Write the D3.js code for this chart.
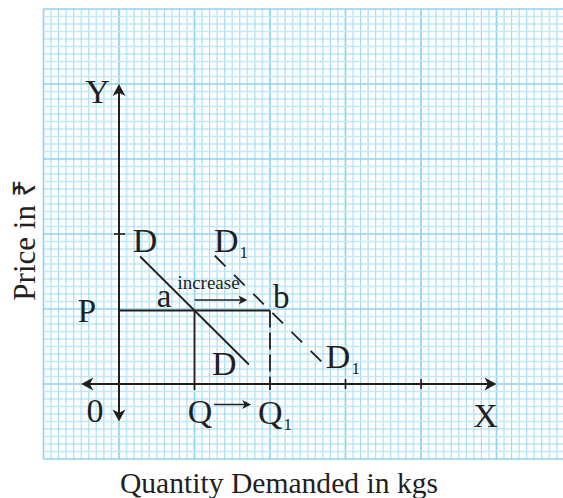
<!DOCTYPE html>
<html><head><meta charset="utf-8">
<script src="https://cdn.jsdelivr.net/npm/d3@7"></script>
<style>body{margin:0;background:#fff}svg{display:block}</style>
</head><body><svg id="c" width="563" height="498"></svg>
<script>
// ---- data (in graph-paper units: 1 unit = one major square) ----
const demandD  = [[0.28, 1.70], [1.72, 0.26]];
const demandD1 = [[1.27, 1.71], [2.72, 0.26]];
const priceP = 0.98;
const qtyQ = 1;
const qtyQ1 = 2;
const xTicks = [3, 4];
const yTicks = [2];
const xAxisExtent = [-0.5, 5];
const yAxisExtent = [-0.5, 4];
const increaseArrow = [1.0, 1.7];
const quantityArrow = [1.26, 1.75];
const xTitle = "Quantity Demanded in kgs";
const yTitle = "Price in \u20B9";

// ---- scales ----
const svg = d3.select("#c");
const x = d3.scaleLinear().domain([0, 1]).range([119, 194.5]);
const y = d3.scaleLinear().domain([0, 1]).range([384, 309]);
const ink = "#231f20";
const serif = "'Liberation Serif','Times New Roman',serif";

// ---- graph paper ----
const grid = svg.append("g");
const vx = d3.range(-10, 59).map(k => k / 10);
const hy = d3.range(-10, 51).map(k => k / 10);
const xL = x(-1), xR = 563, yT = y(5), yB = y(-1);
function gStyle(sel, k) {
  const major = Math.abs(k - Math.round(k)) < 1e-6;
  const odd = Math.round(k * 10) % 2 !== 0;
  sel.attr("stroke", major ? "#8dd3f0" : (odd ? "#c2e9f9" : "#9ed9f3"))
     .attr("stroke-width", major ? 1.7 : (odd ? 1.7 : 1.1));
}
vx.forEach(k => grid.append("line").attr("x1", x(k)).attr("x2", x(k)).attr("y1", yT).attr("y2", yB).call(gStyle, k));
hy.forEach(k => grid.append("line").attr("x1", xL).attr("x2", xR).attr("y1", y(k)).attr("y2", y(k)).call(gStyle, k));

// ---- arrowhead helper ----
function head(g, tx, ty, ang, len, hw) {
  const c = Math.cos(ang), s = Math.sin(ang);
  const p = (a, b) => [tx - a * c - b * -s, ty - a * s - b * c];
  const pts = [p(0, 0), p(len, hw), p(len * 0.72, 0), p(len, -hw)];
  g.append("path").attr("d", "M" + pts.map(q => q.join(",")).join("L") + "Z").attr("fill", ink);
}

const g = svg.append("g");
// axes
g.append("line").attr("x1", x(0)).attr("x2", x(0)).attr("y1", y(yAxisExtent[0]) - 4).attr("y2", y(yAxisExtent[1]) + 4)
  .attr("stroke", ink).attr("stroke-width", 2);
head(g, x(0), y(yAxisExtent[1]), -Math.PI / 2, 12, 6.5);
head(g, x(0), y(yAxisExtent[0]), Math.PI / 2, 12, 6.5);
g.append("line").attr("x1", x(xAxisExtent[0]) + 4).attr("x2", x(xAxisExtent[1]) - 4).attr("y1", y(0)).attr("y2", y(0))
  .attr("stroke", ink).attr("stroke-width", 2);
head(g, x(xAxisExtent[1]), y(0), 0, 12, 6.5);
head(g, x(xAxisExtent[0]), y(0), Math.PI, 12, 6.5);
// ticks
xTicks.forEach(t => g.append("line").attr("x1", x(t)).attr("x2", x(t)).attr("y1", y(0) - 5).attr("y2", y(0) + 5).attr("stroke", ink).attr("stroke-width", 1.6));
yTicks.forEach(t => g.append("line").attr("x1", x(0) - 5).attr("x2", x(0) + 6).attr("y1", y(t)).attr("y2", y(t)).attr("stroke", ink).attr("stroke-width", 1.6));

// price line and quantity drop lines
g.append("line").attr("x1", x(0)).attr("x2", x(qtyQ1)).attr("y1", y(priceP)).attr("y2", y(priceP)).attr("stroke", ink).attr("stroke-width", 1.8);
g.append("line").attr("x1", x(qtyQ)).attr("x2", x(qtyQ)).attr("y1", y(priceP)).attr("y2", y(0) + 6).attr("stroke", ink).attr("stroke-width", 1.8);
g.append("line").attr("x1", x(qtyQ1)).attr("x2", x(qtyQ1)).attr("y1", y(priceP)).attr("y2", y(0) + 6).attr("stroke", ink).attr("stroke-width", 1.8)
  .attr("stroke-dasharray", "17,5");

// demand curves
const line = d3.line().x(d => x(d[0])).y(d => y(d[1]));
g.append("path").attr("d", line(demandD)).attr("stroke", ink).attr("stroke-width", 1.8).attr("fill", "none");
g.append("path").attr("d", line(demandD1)).attr("stroke", ink).attr("stroke-width", 1.8).attr("fill", "none")
  .attr("stroke-dasharray", "15,12");

// small arrows
const yInc = y(priceP) - 10.5;
g.append("line").attr("x1", x(increaseArrow[0])).attr("x2", x(increaseArrow[1]) - 5).attr("y1", yInc).attr("y2", yInc).attr("stroke", ink).attr("stroke-width", 1.6);
head(g, x(increaseArrow[1]), yInc, 0, 9, 4.5);
const yQa = y(0) + 20.5;
g.append("line").attr("x1", x(quantityArrow[0])).attr("x2", x(quantityArrow[1]) - 5).attr("y1", yQa).attr("y2", yQa).attr("stroke", ink).attr("stroke-width", 1.6);
head(g, x(quantityArrow[1]), yQa, 0, 9, 4.5);

// ---- labels ----
function txt(s, px, py, size, anchor) {
  return g.append("text").attr("x", px).attr("y", py).attr("font-family", serif).attr("font-size", size)
    .attr("fill", ink).attr("text-anchor", anchor || "middle").text(s);
}
function sub(main, s, px, py, size) {
  const t = g.append("text").attr("x", px).attr("y", py).attr("font-family", serif).attr("font-size", size).attr("fill", ink);
  t.append("tspan").text(main);
  t.append("tspan").attr("font-size", size * 0.5).attr("dy", 6).attr("dx", 1).text(s);
  return t;
}
txt("Y", x(0) - 21.5, y(yAxisExtent[1]) + 19, 34);
txt("D", x(demandD[0][0]) + 5, y(demandD[0][1]) - 4.5, 34);
sub("D", "1", x(demandD1[0][0]) - 1, y(demandD1[0][1]) - 4, 34);
txt("a", x(qtyQ) - 30.5, y(priceP) - 3.5, 33);
txt("b", x(qtyQ1) + 3, y(priceP) - 2.5, 33, "start");
txt("P", x(0) - 32, y(priceP) + 11.5, 33);
txt("D", x(demandD[1][0]) - 24.5, y(demandD[1][1]) + 10.5, 34);
sub("D", "1", x(demandD1[1][0]) + 1.5, y(demandD1[1][1]) + 3.5, 34);
txt("increase", x(qtyQ) + 14, y(priceP) - 21.5, 19);
txt("0", x(0) - 24, y(0) + 37.5, 34);
txt("Q", x(qtyQ) + 5.5, y(0) + 39, 34);
sub("Q", "1", x(qtyQ1) - 12, y(0) + 40, 34);
txt("X", x(xAxisExtent[1]) - 11, y(0) + 43, 34);

// axis titles
txt(xTitle, 279, 493, 29.6);
g.append("text").attr("transform", "translate(35," + 240 + ") rotate(-90)")
  .attr("font-family", serif).attr("font-size", 31).attr("fill", ink).attr("text-anchor", "middle").text(yTitle);
</script></body></html>
